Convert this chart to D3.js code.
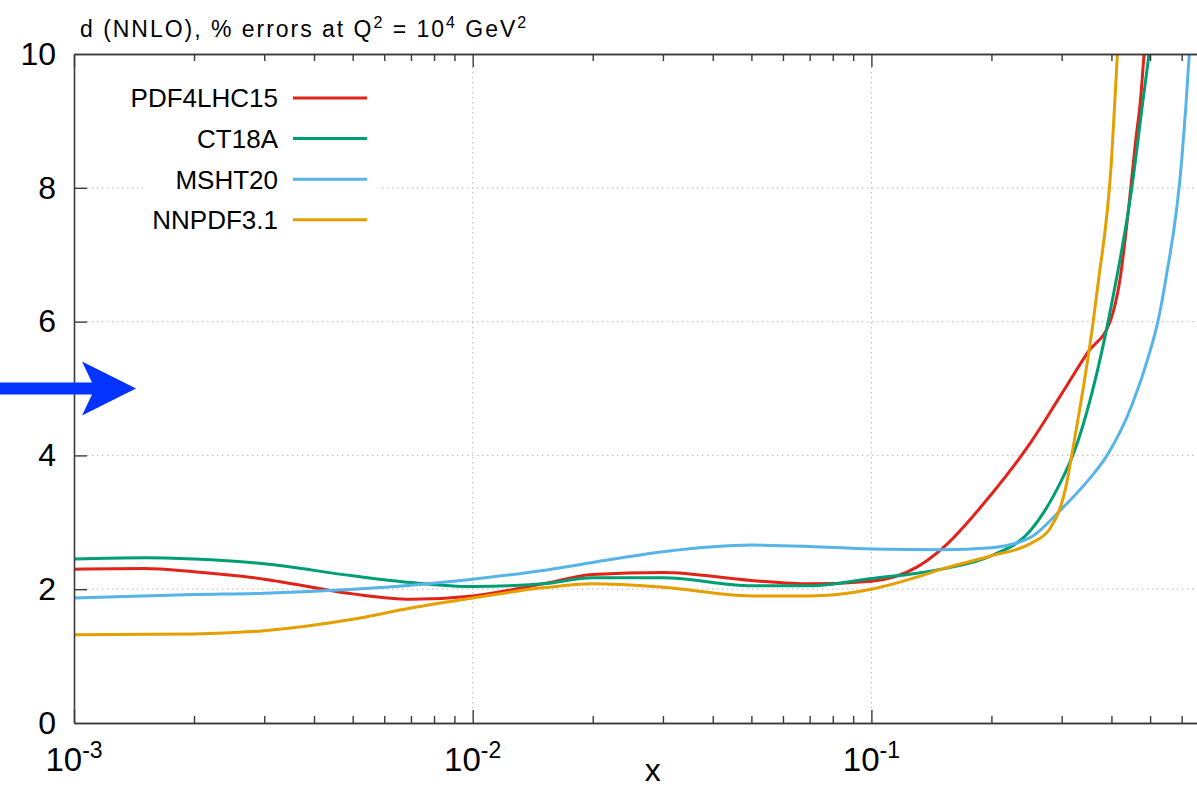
<!DOCTYPE html>
<html>
<head>
<meta charset="utf-8">
<script src="https://cdn.jsdelivr.net/npm/d3@7"></script>
<style>
  html, body { margin: 0; padding: 0; background: #fff; overflow: hidden; }
  svg { display: block; font-family: "Liberation Sans", Arial, Helvetica, sans-serif; }
</style>
</head>
<body>
<svg id="chart" width="1197" height="788"></svg>
<script>
// Percentage uncertainty of the d-quark PDF (NNLO) at Q^2 = 10^4 GeV^2
const seriesNames = ["PDF4LHC15", "CT18A", "MSHT20", "NNPDF3.1"];
const seriesColors = ["#e2231a", "#009e73", "#56b4e9", "#e69f00"];

const xPDF4LHC15 = [0.001, 0.0015, 0.002, 0.003, 0.005, 0.007, 0.01, 0.015, 0.02, 0.03, 0.05, 0.07, 0.1, 0.13, 0.15, 0.2, 0.25, 0.3, 0.35, 0.397, 0.42, 0.44, 0.46, 0.473, 0.483, 0.5];
const yPDF4LHC15 = [2.30, 2.31, 2.26, 2.15, 1.93, 1.85, 1.90, 2.08, 2.22, 2.25, 2.13, 2.08, 2.12, 2.33, 2.60, 3.42, 4.18, 4.92, 5.55, 6.00, 6.62, 7.60, 8.70, 9.31, 10.0, 11.0];

const xCT18A = [0.001, 0.0015, 0.002, 0.003, 0.005, 0.007, 0.01, 0.015, 0.02, 0.03, 0.05, 0.07, 0.1, 0.13, 0.15, 0.2, 0.25, 0.3, 0.32, 0.37, 0.4, 0.45, 0.48, 0.497, 0.52];
const yCT18A = [2.45, 2.47, 2.45, 2.38, 2.20, 2.10, 2.04, 2.08, 2.17, 2.17, 2.05, 2.05, 2.16, 2.24, 2.30, 2.50, 2.87, 3.63, 4.00, 5.30, 6.25, 8.00, 9.31, 10.0, 11.0];

const xMSHT20 = [0.001, 0.002, 0.003, 0.005, 0.007, 0.01, 0.015, 0.02, 0.03, 0.05, 0.07, 0.1, 0.15, 0.2, 0.25, 0.3, 0.35, 0.39, 0.45, 0.5, 0.523, 0.547, 0.6, 0.627, 0.65];
const yMSHT20 = [1.87, 1.92, 1.94, 2.00, 2.06, 2.15, 2.28, 2.40, 2.56, 2.66, 2.64, 2.60, 2.59, 2.62, 2.77, 3.20, 3.63, 4.00, 4.75, 5.56, 6.00, 6.62, 8.40, 10.0, 11.8];

const xNNPDF31 = [0.001, 0.002, 0.003, 0.005, 0.007, 0.01, 0.015, 0.02, 0.03, 0.05, 0.07, 0.1, 0.13, 0.15, 0.2, 0.25, 0.28, 0.31, 0.318, 0.36, 0.37, 0.4, 0.414, 0.43];
const yNNPDF31 = [1.32, 1.33, 1.38, 1.55, 1.72, 1.87, 2.02, 2.08, 2.03, 1.90, 1.90, 2.00, 2.18, 2.30, 2.50, 2.68, 2.90, 3.63, 4.00, 6.00, 6.55, 8.40, 10.0, 11.8];

const seriesX = [xPDF4LHC15, xCT18A, xMSHT20, xNNPDF31];
const seriesY = [yPDF4LHC15, yCT18A, yMSHT20, yNNPDF31];

const yTicks = [0, 2, 4, 6, 8, 10];
const xMajorExps = [-3, -2, -1];
const yGrid = [2, 4, 6, 8];
const xGrid = [0.01, 0.1];

(function draw() {
  // ---- layout ----
  const plotLeft = 74, plotTop = 54, plotBottom = 723;
  const decade = 398.7;
  const xMax = 0.7;

  const svg = d3.select("#chart");

  const x = d3.scaleLog()
    .domain([1e-3, xMax])
    .range([plotLeft, plotLeft + decade * Math.log10(xMax / 1e-3)]);
  const y = d3.scaleLinear().domain([0, 10]).range([plotBottom, plotTop]);
  const plotRight = x(xMax);

  // minor tick values (2..9 in each decade)
  const minorTicks = [];
  for (let e = -3; e <= -1; e++) {
    for (let m = 2; m <= 9; m++) {
      const v = m * Math.pow(10, e);
      if (v <= xMax) minorTicks.push(v);
    }
  }
  const majorTicks = xMajorExps.map(e => Math.pow(10, e));

  const axisColor = "#3a3a3a";
  const gridColor = "#c4c4c4";

  // ---- grid ----
  const grid = svg.append("g").attr("class", "grid");
  grid.selectAll("line.gy").data(yGrid).join("line")
    .attr("class", "gy")
    .attr("x1", plotLeft + 13).attr("x2", plotRight)
    .attr("y1", d => y(d)).attr("y2", d => y(d))
    .attr("stroke", gridColor).attr("stroke-width", 1.2)
    .attr("stroke-dasharray", "1.5,3.5");
  grid.selectAll("line.gx").data(xGrid).join("line")
    .attr("class", "gx")
    .attr("x1", d => x(d)).attr("x2", d => x(d))
    .attr("y1", plotTop + 13).attr("y2", plotBottom - 13)
    .attr("stroke", gridColor).attr("stroke-width", 1.2)
    .attr("stroke-dasharray", "1.5,3.5");

  // ---- key background (opaque) ----
  const keyX = 278, keyLineX1 = 293, keyLineX2 = 367, keyY0 = 98, keyDy = 40.6;
  svg.append("rect")
    .attr("x", 143).attr("y", keyY0 - 22)
    .attr("width", keyLineX2 + 13 - 143).attr("height", keyDy * 3 + 44)
    .attr("fill", "#fff");

  // ---- curves ----
  svg.append("clipPath").attr("id", "plotClip")
    .append("rect").attr("x", plotLeft).attr("y", plotTop)
    .attr("width", plotRight - plotLeft).attr("height", plotBottom - plotTop);

  const line = d3.line()
    .x(d => x(d[0]))
    .y(d => y(d[1]))
    .curve(d3.curveMonotoneX);

  const curves = svg.append("g").attr("clip-path", "url(#plotClip)");
  seriesNames.forEach((name, i) => {
    const pts = seriesX[i].map((xv, j) => [xv, seriesY[i][j]]);
    curves.append("path")
      .datum(pts)
      .attr("d", line)
      .attr("fill", "none")
      .attr("stroke", seriesColors[i])
      .attr("stroke-width", 3)
      .attr("stroke-linejoin", "round")
      .attr("stroke-linecap", "round");
  });

  // ---- axes ----
  function styleAxis(g) {
    g.selectAll("path.domain").attr("stroke", axisColor).attr("stroke-width", 1.6);
    g.selectAll(".tick line").attr("stroke", axisColor).attr("stroke-width", 1.4);
  }

  // bottom: major + minor ticks, labels drawn separately
  svg.append("g").attr("transform", `translate(0,${plotBottom})`)
    .call(d3.axisBottom(x).tickValues(majorTicks).tickSizeInner(-13).tickSizeOuter(0).tickFormat(""))
    .call(styleAxis);
  svg.append("g").attr("transform", `translate(0,${plotBottom})`)
    .call(d3.axisBottom(x).tickValues(minorTicks).tickSizeInner(-7).tickSizeOuter(0).tickFormat(""))
    .call(styleAxis);
  // top mirror
  svg.append("g").attr("transform", `translate(0,${plotTop})`)
    .call(d3.axisTop(x).tickValues(majorTicks).tickSizeInner(-13).tickSizeOuter(0).tickFormat(""))
    .call(styleAxis);
  svg.append("g").attr("transform", `translate(0,${plotTop})`)
    .call(d3.axisTop(x).tickValues(minorTicks).tickSizeInner(-7).tickSizeOuter(0).tickFormat(""))
    .call(styleAxis);

  // left axis
  const yAxisG = svg.append("g").attr("transform", `translate(${plotLeft},0)`)
    .call(d3.axisLeft(y).tickValues(yTicks).tickSizeInner(-13).tickSizeOuter(0).tickPadding(18).tickFormat(d3.format("d")))
    .call(styleAxis);
  yAxisG.selectAll(".tick text")
    .attr("font-size", 32).attr("fill", "#000")
    .attr("font-family", "'Liberation Sans', Arial, sans-serif");
  yAxisG.selectAll(".tick").filter(d => d === 0 || d === 10).select("line").remove();

  // x tick labels 10^n
  const xLab = svg.append("g");
  xMajorExps.forEach(e => {
    const t = xLab.append("text")
      .attr("x", x(Math.pow(10, e)))
      .attr("y", plotBottom + 48)
      .attr("text-anchor", "middle")
      .attr("font-size", 33)
      .attr("fill", "#000");
    t.append("tspan").text("10");
    t.append("tspan").attr("dy", -13).attr("font-size", 23).text(String(e));
  });

  // axis title
  svg.append("text")
    .attr("x", x(0.0283)).attr("y", 781)
    .attr("text-anchor", "middle")
    .attr("font-size", 32).attr("fill", "#000")
    .text("x");

  // chart title (spaced out to its full width)
  const title = svg.append("text")
    .attr("x", 80).attr("y", 37)
    .attr("font-size", 23).attr("fill", "#000");
  title.append("tspan").text("d (NNLO), % errors at Q");
  title.append("tspan").attr("dy", -9).attr("font-size", 16).text("2");
  title.append("tspan").attr("dy", 9).text(" = 10");
  title.append("tspan").attr("dy", -9).attr("font-size", 16).text("4");
  title.append("tspan").attr("dy", 9).text(" GeV");
  title.append("tspan").attr("dy", -9).attr("font-size", 16).text("2");
  const titleWidth = 448;
  const natural = title.node().getComputedTextLength();
  const nChars = title.text().length;
  if (natural < titleWidth) {
    title.attr("letter-spacing", ((titleWidth - natural) / nChars).toFixed(2) + "px");
  }

  // ---- key ----
  const key = svg.append("g");
  seriesNames.forEach((name, i) => {
    const ky = keyY0 + i * keyDy;
    key.append("text")
      .attr("x", keyX).attr("y", ky)
      .attr("dy", "0.36em")
      .attr("text-anchor", "end")
      .attr("font-size", 26).attr("fill", "#000")
      .text(name);
    key.append("line")
      .attr("x1", keyLineX1).attr("x2", keyLineX2)
      .attr("y1", ky).attr("y2", ky)
      .attr("stroke", seriesColors[i]).attr("stroke-width", 3);
  });

  // ---- pointer arrow at the 5% level ----
  const ay = y(5);
  const arrowPath = d3.path();
  arrowPath.moveTo(0, ay - 6);
  arrowPath.lineTo(92, ay - 6);
  arrowPath.lineTo(82, ay - 27);
  arrowPath.lineTo(136, ay);
  arrowPath.lineTo(82, ay + 27);
  arrowPath.lineTo(92, ay + 6);
  arrowPath.lineTo(0, ay + 6);
  arrowPath.closePath();
  svg.append("path").attr("d", arrowPath.toString()).attr("fill", "#0433ff");
})();
</script>
</body>
</html>
